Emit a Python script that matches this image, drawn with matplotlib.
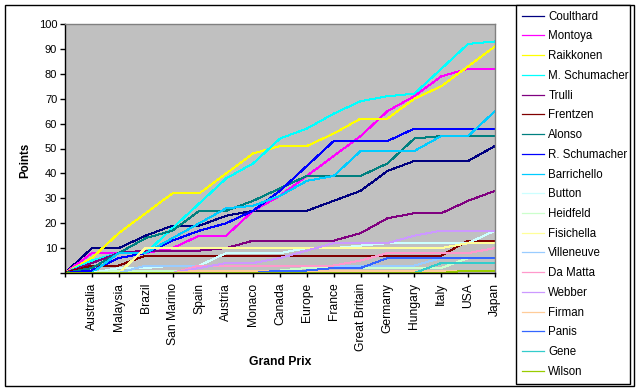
import matplotlib
matplotlib.use('Agg')
import matplotlib.pyplot as plt
from matplotlib.patches import Rectangle

# Categories (first point is the season start at 0 points)
races = ['', 'Australia', 'Malaysia', 'Brazil', 'San Marino', 'Spain', 'Austria',
         'Monaco', 'Canada', 'Europe', 'France', 'Great Britain', 'Germany',
         'Hungary', 'Italy', 'USA', 'Japan']

# Cumulative points per driver
coulthard     = [0, 10, 10, 15, 19, 19, 23, 25, 25, 25, 29, 33, 41, 45, 45, 45, 51]
montoya       = [0, 8, 8, 8, 10, 15, 15, 25, 31, 39, 47, 55, 65, 71, 79, 82, 82]
raikkonen     = [0, 6, 16, 24, 32, 32, 40, 48, 51, 51, 56, 62, 62, 70, 75, 83, 91]
m_schumacher  = [0, 5, 8, 8, 18, 28, 38, 44, 54, 58, 64, 69, 71, 72, 82, 92, 93]
trulli        = [0, 4, 8, 9, 9, 9, 10, 13, 13, 13, 13, 16, 22, 24, 24, 29, 33]
frentzen      = [0, 3, 3, 7, 7, 7, 7, 7, 7, 7, 7, 7, 7, 7, 7, 13, 13]
alonso        = [0, 2, 8, 14, 17, 25, 25, 29, 34, 39, 39, 39, 44, 54, 55, 55, 55]
r_schumacher  = [0, 1, 6, 8, 13, 17, 20, 25, 33, 43, 53, 53, 53, 58, 58, 58, 58]
barrichello   = [0, 0, 8, 8, 14, 20, 26, 27, 31, 37, 39, 49, 49, 49, 55, 55, 65]
button        = [0, 0, 2, 2, 3, 3, 8, 8, 8, 10, 10, 11, 12, 12, 12, 12, 17]
heidfeld      = [0, 0, 1, 1, 1, 1, 1, 1, 1, 2, 2, 2, 2, 2, 2, 6, 6]
fisichella    = [0, 0, 0, 10, 10, 10, 10, 10, 10, 10, 10, 10, 10, 10, 10, 12, 12]
villeneuve    = [0, 0, 0, 3, 3, 3, 3, 3, 3, 3, 3, 3, 3, 3, 6, 6, 6]
da_matta      = [0, 0, 0, 0, 0, 3, 3, 3, 3, 3, 3, 5, 8, 8, 8, 8, 10]
webber        = [0, 0, 0, 0, 0, 2, 4, 4, 6, 9, 12, 12, 12, 15, 17, 17, 17]
firman        = [0, 0, 0, 0, 0, 1, 1, 1, 1, 1, 1, 1, 1, 1, 1, 1, 1]
panis         = [0, 0, 0, 0, 0, 0, 0, 0, 1, 1, 2, 2, 6, 6, 6, 6, 6]
gene          = [0, 0, 0, 0, 0, 0, 0, 0, 0, 0, 0, 0, 0, 0, 4, 4, 4]
wilson        = [0, 0, 0, 0, 0, 0, 0, 0, 0, 0, 0, 0, 0, 0, 0, 1, 1]

drivers = ['Coulthard', 'Montoya', 'Raikkonen', 'M. Schumacher', 'Trulli',
           'Frentzen', 'Alonso', 'R. Schumacher', 'Barrichello', 'Button',
           'Heidfeld', 'Fisichella', 'Villeneuve', 'Da Matta', 'Webber',
           'Firman', 'Panis', 'Gene', 'Wilson']
series = [coulthard, montoya, raikkonen, m_schumacher, trulli, frentzen, alonso,
          r_schumacher, barrichello, button, heidfeld, fisichella, villeneuve,
          da_matta, webber, firman, panis, gene, wilson]
colors = ['#000080', '#FF00FF', '#FFFF00', '#00FFFF', '#800080', '#800000',
          '#008080', '#0000FF', '#00CCFF', '#CCFFFF', '#CCFFCC', '#FFFF99',
          '#99CCFF', '#FF99CC', '#CC99FF', '#FFCC99', '#3366FF', '#33CCCC',
          '#99CC00']
yticks = list(range(0, 101, 10))

plt.rcParams['font.family'] = ['Liberation Sans', 'DejaVu Sans']

W, H = 640, 390
fig = plt.figure(figsize=(6.4, 3.9), dpi=100)
fig.patch.set_facecolor('white')

ax = fig.add_axes([65 / W, 1 - 273 / H, 430 / W, 249 / H])
ax.set_facecolor('#C0C0C0')
xs = list(range(len(races)))
for name, vals, col in zip(drivers, series, colors):
    ax.plot(xs, vals, color=col, lw=0.72, label=name, antialiased=False)

ax.set_xlim(0, len(races) - 1)
ax.set_ylim(0, 100)
ax.set_yticks(yticks)
ax.set_yticklabels(['' if v == 0 else str(v) for v in yticks], fontsize=8)
ax.set_xticks(xs)
ax.set_xticklabels(races, rotation=90, fontsize=8.7)
ax.tick_params(axis='x', length=3, width=1, pad=4, direction='out')
ax.tick_params(axis='y', length=3.6, width=1, pad=2, direction='out')

for s in ['left', 'bottom']:
    ax.spines[s].set_color('black')
    ax.spines[s].set_linewidth(1)
for s in ['top', 'right']:
    ax.spines[s].set_color('#808080')
    ax.spines[s].set_linewidth(1)

fig.text(280 / W, 1 - 362 / H, 'Grand Prix', ha='center', va='center',
         fontsize=8.7, fontweight='bold')
fig.text(25 / W, 1 - 160 / H, 'Points', ha='center', va='center',
         rotation=90, fontsize=8.3, fontweight='bold')

leg = fig.legend(loc='upper left', bbox_to_anchor=(516 / W, 6 / H, 114 / W, 379 / H),
                 mode='expand', frameon=True, fancybox=False, edgecolor='black',
                 framealpha=1, fontsize=8.3, handlelength=1.9, handletextpad=0.4,
                 labelspacing=0.67, borderaxespad=0, borderpad=0.5)
leg.get_frame().set_linewidth(1)
for h in leg.get_lines():
    h.set_linewidth(0.9)

fig.patches.append(Rectangle((5 / W, 4 / H), 629 / W, 381 / H,
                             transform=fig.transFigure, fill=False,
                             edgecolor='black', linewidth=1))

fig.savefig('out.png', dpi=100, facecolor='white')
